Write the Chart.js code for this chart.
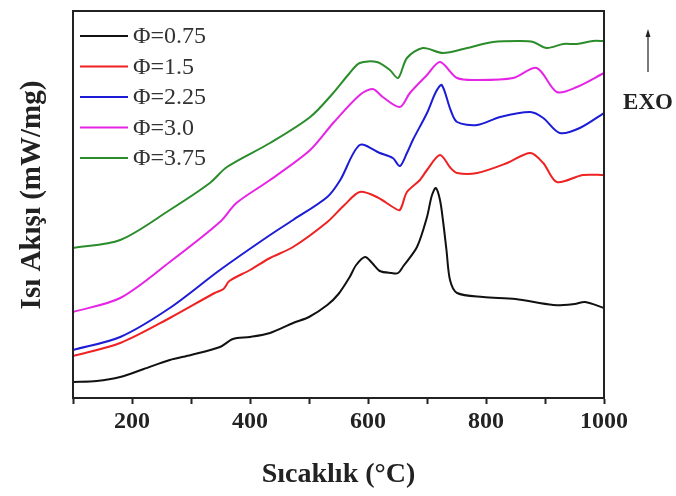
<!DOCTYPE html>
<html lang="tr">
<head>
    <meta charset="UTF-8">
    <title>Isı Akışı - Sıcaklık</title>
    <script src="https://cdn.jsdelivr.net/npm/chart.js"></script>
    <style>
        body { margin: 0; background: #fff; }
        #wrap { width: 676px; height: 496px; }
    </style>
</head>
<body>
    <div id="wrap"><canvas id="chart"></canvas></div>
    <script>
        // [temperature °C, heat flow (arbitrary)]
        const phi075 = [[100,16],[140,17],[180,21],[220,29],[264,38],[300,43],[349,51],[371,59],[400,61],[434,65],[473,75],[500,81],[531,93],[550,104],[569,121],[580,133],[595,141],[607,135],[620,127],[640,125],[651,125],[660,132],[683,151],[700,181],[708,202],[715,210],[722,198],[727,178],[733,148],[739,118],[751,105],[795,101],[850,99],[914,93],[950,94],[968,96],[1000,90]];
        const phi15 = [[100,42],[180,55],[264,80],[340,105],[355,109],[365,117],[400,128],[434,140],[473,151],[531,176],[560,193],[586,206],[615,201],[642,191],[654,188],[666,206],[688,218],[700,228],[722,243],[740,230],[751,225],[785,225],[836,235],[875,245],[897,235],[920,216],[964,223],[1000,223]];
        const phi225 = [[100,48],[180,61],[264,90],[349,128],[434,163],[473,178],[531,201],[553,218],[586,253],[620,245],[642,240],[654,232],[666,245],[676,258],[700,285],[715,306],[725,313],[740,288],[751,276],[785,273],[824,281],[875,286],[897,280],[925,265],[959,270],[1000,285]];
        const phi30 = [[100,86],[180,100],[264,136],[349,176],[377,195],[434,218],[502,248],[541,275],[586,303],[608,309],[625,301],[654,291],[671,305],[700,323],[722,336],[751,320],[785,318],[846,320],[886,330],[920,306],[954,311],[1000,325]];
        const phi375 = [[100,150],[180,158],[264,188],[332,215],[361,231],[434,255],[502,281],[541,305],[569,325],[586,335],[615,336],[637,328],[651,320],[666,340],[693,350],[727,345],[768,350],[812,356],[858,357],[880,356],[903,350],[931,354],[954,354],[981,357],[1000,357]];

        const seriesLabels = ['Φ=0.75', 'Φ=1.5', 'Φ=2.25', 'Φ=3.0', 'Φ=3.75'];
        const seriesData = [phi075, phi15, phi225, phi30, phi375];
        const seriesColors = ['#111111', '#ee2222', '#1c1cd6', '#e624e6', '#2a8c2a'];
        const xTickLabels = [200, 400, 600, 800, 1000];

        const serif = '"Liberation Serif", "Times New Roman", serif';

        // frame, legend, y title and EXO arrow
        const extras = {
            id: 'extras',
            afterDraw(chart) {
                const ctx = chart.ctx;
                const a = chart.chartArea;
                ctx.save();
                ctx.strokeStyle = '#222';
                ctx.lineWidth = 2;
                ctx.strokeRect(a.left, a.top, a.right - a.left, a.bottom - a.top);

                ctx.font = '24px ' + serif;
                ctx.textBaseline = 'middle';
                ctx.textAlign = 'left';
                seriesLabels.forEach((lab, i) => {
                    const y = 36 + i * 30.5;
                    ctx.strokeStyle = seriesColors[i];
                    ctx.lineWidth = 2;
                    ctx.beginPath();
                    ctx.moveTo(80, y);
                    ctx.lineTo(128, y);
                    ctx.stroke();
                    ctx.fillStyle = '#333';
                    ctx.fillText(lab, 133, y + 1);
                });

                // y axis title
                ctx.save();
                ctx.translate(33, 195);
                ctx.rotate(-Math.PI / 2);
                ctx.textAlign = 'center';
                ctx.fillStyle = '#222';
                ctx.font = 'bold 29px ' + serif;
                ctx.fillText('Isı Akışı (mW/mg)', 0, 0);
                ctx.restore();

                // EXO arrow
                ctx.strokeStyle = '#222';
                ctx.fillStyle = '#222';
                ctx.lineWidth = 1.2;
                ctx.beginPath();
                ctx.moveTo(648, 72);
                ctx.lineTo(648, 34);
                ctx.stroke();
                ctx.beginPath();
                ctx.moveTo(648, 29);
                ctx.lineTo(645.5, 37);
                ctx.lineTo(650.5, 37);
                ctx.closePath();
                ctx.fill();
                ctx.font = 'bold 23px ' + serif;
                ctx.textAlign = 'center';
                ctx.fillText('EXO', 648, 103);
                ctx.restore();
            }
        };

        new Chart(document.getElementById('chart'), {
            type: 'line',
            data: {
                datasets: seriesData.map((d, i) => ({
                    label: seriesLabels[i],
                    data: d.map(p => ({ x: p[0], y: p[1] })),
                    borderColor: seriesColors[i],
                    borderWidth: 2,
                    pointRadius: 0,
                    tension: 0.3,
                    fill: false
                }))
            },
            options: {
                responsive: true,
                maintainAspectRatio: false,
                animation: false,
                layout: { padding: { top: 11, right: 72, left: 0, bottom: 0 } },
                plugins: { legend: { display: false }, tooltip: { enabled: false } },
                scales: {
                    x: {
                        type: 'linear',
                        min: 100,
                        max: 1000,
                        afterBuildTicks(scale) {
                            scale.ticks = [];
                            for (let v = 100; v <= 1000; v += 100) scale.ticks.push({ value: v });
                        },
                        afterFit(scale) { scale.height = 98; },
                        grid: {
                            drawOnChartArea: false,
                            drawTicks: true,
                            tickLength: 6,
                            tickWidth: 2,
                            tickColor: '#222'
                        },
                        border: { color: '#222', width: 2 },
                        ticks: {
                            padding: 3,
                            color: '#222',
                            font: { family: serif, size: 24, weight: 'bold' },
                            callback: v => xTickLabels.includes(v) ? String(v) : ''
                        },
                        title: {
                            display: true,
                            text: 'Sıcaklık (°C)',
                            color: '#222',
                            font: { family: serif, size: 28, weight: 'bold' },
                            padding: { top: 10, bottom: 4 }
                        }
                    },
                    y: {
                        min: 0,
                        max: 387,
                        afterFit(scale) { scale.width = 73; },
                        grid: { display: false },
                        border: { color: '#222', width: 2 },
                        ticks: { display: false }
                    }
                }
            },
            plugins: [extras]
        });
    </script>
</body>
</html>
